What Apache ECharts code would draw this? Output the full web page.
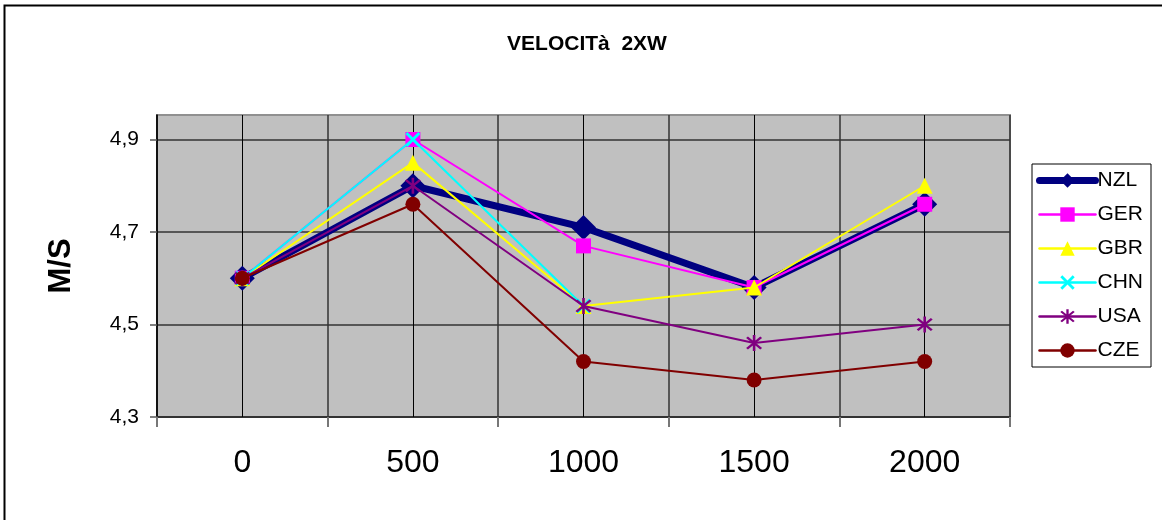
<!DOCTYPE html>
<html>
<head>
<meta charset="utf-8">
<script src="https://cdn.jsdelivr.net/npm/echarts@6/dist/echarts.min.js"></script>
<style>
html,body{margin:0;padding:0;background:#fff;}
#chart{width:1162px;height:520px;}
</style>
</head>
<body>
<div id="chart"></div>
<script>
const categories = ['0', '500', '1000', '1500', '2000'];
const seriesNames = ['NZL', 'GER', 'GBR', 'CHN', 'USA', 'CZE'];
const NZL = [4.60, 4.80, 4.71, 4.58, 4.76];
const GER = [4.60, 4.90, 4.67, 4.58, 4.76];
const GBR = [4.60, 4.85, 4.54, 4.58, 4.80];
const CHN = [4.60, 4.90, 4.54, null, null];
const USA = [4.60, 4.80, 4.54, 4.46, 4.50];
const CZE = [4.60, 4.76, 4.42, 4.38, 4.42];
const yTicks = [4.3, 4.5, 4.7, 4.9];
const titleText = 'VELOCITà  2XW';
const yName = 'M/S';

const FONT = '"Liberation Sans", Arial, sans-serif';

function starPath(angles, t) {
  const R = 50, c = 50, pts = [], n = angles.length;
  for (let i = 0; i < n; i++) {
    const a = angles[i] * Math.PI / 180;
    let bDeg = angles[(i + 1) % n];
    if (bDeg <= angles[i]) bDeg += 360;
    const b = bDeg * Math.PI / 180;
    const px = -Math.sin(a), py = Math.cos(a);
    pts.push([c + R * Math.cos(a) - t * px, c + R * Math.sin(a) - t * py]);
    pts.push([c + R * Math.cos(a) + t * px, c + R * Math.sin(a) + t * py]);
    const m = (a + b) / 2, g = (b - a) / 2, d = t / Math.sin(g);
    pts.push([c + d * Math.cos(m), c + d * Math.sin(m)]);
  }
  return 'path://M' + pts.map(p => p[0].toFixed(2) + ' ' + p[1].toFixed(2)).join(' L') + ' Z';
}
const xSymbol = starPath([45, 135, 225, 315], 8);
const starSymbol = starPath([45, 90, 135, 225, 270, 315], 6.5);

const styles = {
  NZL: {color: '#000080', width: 7, symbol: 'diamond', size: 25},
  GER: {color: '#ff00ff', width: 2, symbol: 'rect', size: 15},
  GBR: {color: '#ffff00', width: 2, symbol: 'triangle', size: 16},
  CHN: {color: '#00ffff', width: 2, symbol: xSymbol, size: 15},
  USA: {color: '#800080', width: 2, symbol: starSymbol, size: 16},
  CZE: {color: '#800000', width: 2, symbol: 'circle', size: 15}
};
const dataMap = {NZL, GER, GBR, CHN, USA, CZE};

const series = seriesNames.map((name, i) => {
  const s = styles[name];
  const obj = {
    name: name,
    type: 'line',
    data: dataMap[name],
    symbol: s.symbol,
    symbolSize: s.size,
    showAllSymbol: true,
    connectNulls: false,
    lineStyle: {color: s.color, width: s.width, cap: 'round', join: 'round'},
    itemStyle: {color: s.color},
    emphasis: {disabled: true},
    animation: false,
    z: 2 + i
  };
  if (i === 0) {
    obj.markLine = {
      silent: true,
      z: 1,
      symbol: 'none',
      label: {show: false},
      animation: false,
      lineStyle: {color: '#000', width: 1, type: 'solid'},
      data: categories.map(c => ({xAxis: c}))
    };
  }
  return obj;
});

const legendData = seriesNames.map(name => ({
  name: name,
  lineStyle: {color: styles[name].color, width: name === 'NZL' ? 7 : 2.5, cap: 'round'},
  itemStyle: {color: styles[name].color}
}));

const chart = echarts.init(document.getElementById('chart'), null, {renderer: 'canvas'});
chart.setOption({
  animation: false,
  backgroundColor: '#fff',
  textStyle: {fontFamily: FONT},
  title: {
    text: titleText,
    left: 587,
    top: 34,
    textAlign: 'center',
    padding: 0,
    textStyle: {fontFamily: FONT, fontSize: 21, fontWeight: 'bold', color: '#000'}
  },
  graphic: [
    {type: 'rect', silent: true, z: 100, shape: {x: 4.5, y: 5.5, width: 1300, height: 700},
     style: {fill: 'none', stroke: '#000', lineWidth: 2}}
  ],
  legend: {
    orient: 'vertical',
    left: 1032,
    top: 164,
    itemWidth: 56,
    itemHeight: 18,
    itemGap: 13,
    padding: [6, 8, 6, 4],
    backgroundColor: '#fff',
    borderColor: '#000',
    borderWidth: 1,
    data: legendData,
    textStyle: {fontFamily: FONT, fontSize: 21, color: '#000', padding: [0, 0, 0, -3]}
  },
  grid: {
    left: 157,
    right: 152,
    top: 115,
    bottom: 103,
    show: true,
    backgroundColor: '#c0c0c0',
    borderColor: '#909090',
    borderWidth: 2
  },
  xAxis: {
    type: 'category',
    data: categories,
    boundaryGap: true,
    axisLine: {show: true, lineStyle: {color: '#333', width: 2}},
    axisTick: {show: true, length: 10, lineStyle: {color: '#777', width: 2}},
    axisLabel: {fontFamily: FONT, fontSize: 32, color: '#000', margin: 30},
    splitLine: {show: true, lineStyle: {color: '#333', width: 1.5}}
  },
  yAxis: {
    type: 'value',
    min: 4.3,
    max: 4.953,
    name: yName,
    nameLocation: 'middle',
    nameGap: 80,
    nameRotate: 90,
    nameTextStyle: {fontFamily: FONT, fontSize: 31, fontWeight: 'bold', color: '#000'},
    axisLine: {show: true, lineStyle: {color: '#000', width: 1.5}},
    axisTick: {show: true, length: 7, customValues: yTicks, lineStyle: {color: '#555', width: 1.5}},
    axisLabel: {
      fontFamily: FONT, fontSize: 21, color: '#000', margin: 18,
      customValues: yTicks,
      formatter: v => String(Math.round(v * 10) / 10).replace('.', ',')
    },
    splitLine: {show: true, lineStyle: {color: '#333', width: 1.5}}
  },
  series: series
});
</script>
</body>
</html>
